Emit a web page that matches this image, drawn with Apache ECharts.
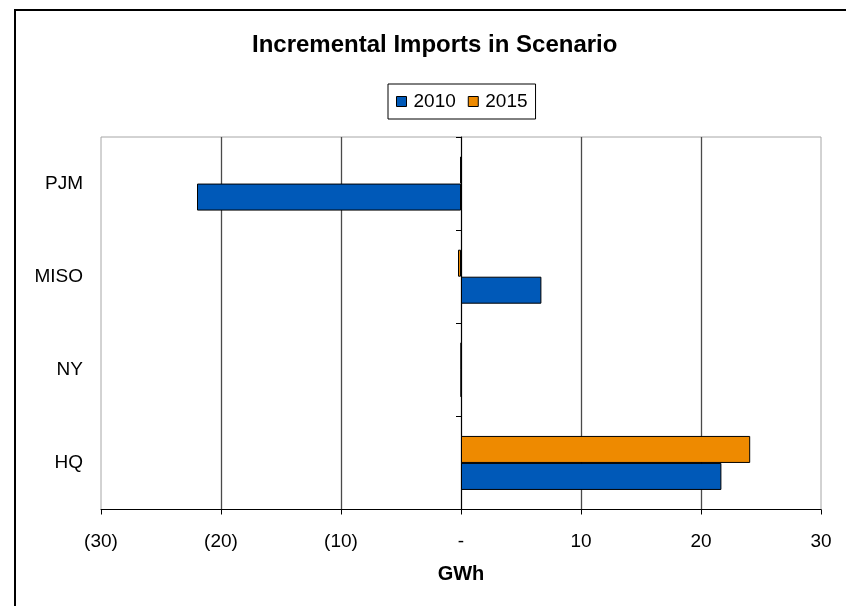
<!DOCTYPE html>
<html>
<head>
<meta charset="utf-8">
<script src="https://cdn.jsdelivr.net/npm/echarts@6/dist/echarts.min.js"></script>
<style>
html,body{margin:0;padding:0;background:#fff;}
#main{width:846px;height:606px;}
</style>
</head>
<body>
<div id="main"></div>
<script>
const categories = ['PJM', 'MISO', 'NY', 'HQ'];
const seriesNames = ['2010', '2015'];
const values2010 = [-22.0, 6.7, 0, 21.7];
const values2015 = [-0.05, -0.25, 0, 24.1];
const xTicks = [-30, -20, -10, 0, 10, 20, 30];

const FONT = "'Liberation Sans', Arial, sans-serif";
const chart = echarts.init(document.getElementById('main'));

function fmt(v) {
  if (v < 0) return '(' + Math.abs(v) + ')';
  if (v === 0) return '-';
  return String(v);
}

chart.setOption({
  animation: false,
  backgroundColor: '#fff',
  textStyle: { fontFamily: FONT },
  title: {
    text: 'Incremental Imports in Scenario',
    left: 252, top: 33, padding: 0,
    textStyle: { fontFamily: FONT, fontSize: 24, fontWeight: 'bold', color: '#000' }
  },
  legend: {
    data: seriesNames,
    left: 388, top: 84,
    padding: [8, 8, 8, 8],
    itemWidth: 10, itemHeight: 10, itemGap: 12,
    icon: 'rect',
    borderColor: '#000', borderWidth: 1,
    itemStyle: { borderColor: '#000', borderWidth: 1 },
    textStyle: { fontFamily: FONT, fontSize: 19, color: '#000', padding: [0, 0, 0, 2] }
  },
  graphic: [{
    type: 'rect',
    shape: { x: 15, y: 10, width: 900, height: 700 },
    style: { fill: 'none', stroke: '#000', lineWidth: 2 },
    silent: true
  }],
  grid: {
    left: 101, top: 137, right: 25, bottom: 96.5,
    containLabel: false, outerBoundsMode: 'none',
    show: true, borderColor: '#a6a6a6', borderWidth: 1, backgroundColor: 'transparent'
  },
  xAxis: {
    type: 'value',
    min: xTicks[0], max: xTicks[xTicks.length - 1], interval: 10,
    axisLine: { show: true, onZero: false, lineStyle: { color: '#000', width: 1 } },
    axisTick: { show: true, length: 5, lineStyle: { color: '#000' } },
    splitLine: { show: true, showMinLine: false, showMaxLine: false, lineStyle: { color: '#4a4a4a', width: 1.3 } },
    axisLabel: { formatter: fmt, fontFamily: FONT, fontSize: 19, color: '#000', margin: 23 },
    name: 'GWh', nameLocation: 'middle', nameGap: 55,
    nameTextStyle: { fontFamily: FONT, fontSize: 20, fontWeight: 'bold', color: '#000' }
  },
  yAxis: [
    {
      type: 'category',
      data: categories,
      inverse: true,
      position: 'left',
      axisLine: { show: false, onZero: false },
      axisTick: { show: false },
      axisLabel: { fontFamily: FONT, fontSize: 19, color: '#000', margin: 18 },
      splitLine: { show: false }
    },
    {
      type: 'category',
      data: categories,
      inverse: true,
      position: 'left',
      axisLine: { show: true, onZero: true, lineStyle: { color: '#000', width: 1 } },
      axisTick: { show: true, length: 5, alignWithLabel: false, lineStyle: { color: '#000' } },
      axisLabel: { show: false },
      splitLine: { show: false }
    }
  ],
  series: [
    {
      name: seriesNames[1], type: 'bar', data: values2015, yAxisIndex: 0,
      barWidth: 27, barGap: '0%',
      itemStyle: { color: '#EE8A00', borderColor: '#000', borderWidth: 1 }
    },
    {
      name: seriesNames[0], type: 'bar', data: values2010, yAxisIndex: 0,
      barWidth: 27, barGap: '0%',
      itemStyle: { color: '#0059B8', borderColor: '#000', borderWidth: 1 }
    }
  ]
});
</script>
</body>
</html>
